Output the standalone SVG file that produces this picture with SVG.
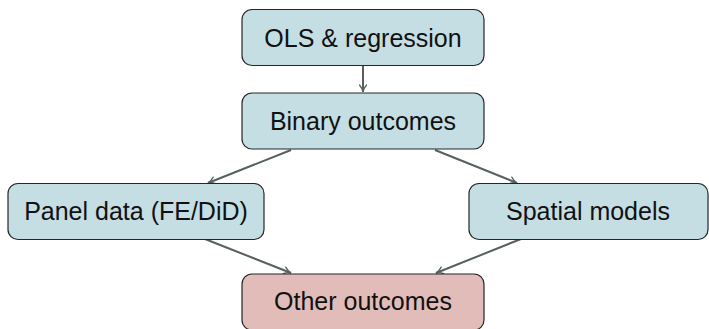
<svg xmlns="http://www.w3.org/2000/svg" width="709" height="329" viewBox="0 0 709 329">
  <style>
    .box { fill: #c5dee4; stroke: #262626; stroke-width: 1.2; }
    .box.alt { fill: #e2bcb9; }
    .label { font-family: "Liberation Sans", Arial, sans-serif; font-size: 25px; fill: #111; text-anchor: middle; dominant-baseline: central; }
    .edge { stroke: #56615f; stroke-width: 2; fill: none; marker-end: url(#arrow); }
  </style>
  <defs>
    <marker id="arrow" viewBox="0 0 10 10" refX="9" refY="5" markerWidth="10" markerHeight="10" orient="auto" markerUnits="userSpaceOnUse">
      <path d="M2,1.5 Q5.5,4.5 9,5 Q5.5,5.5 2,8.5" stroke="#56615f" stroke-width="1.3" fill="none" stroke-linecap="round"/>
    </marker>
  </defs>
  <rect width="709" height="329" fill="#ffffff"/>

  <g id="edges">
    <line class="edge" x1="363" y1="65" x2="363" y2="92"/>
    <line class="edge" x1="291" y1="150" x2="208" y2="183"/>
    <line class="edge" x1="435" y1="150" x2="517" y2="183"/>
    <line class="edge" x1="205" y1="239" x2="291" y2="273"/>
    <line class="edge" x1="521" y1="239" x2="436" y2="273"/>
  </g>

  <g id="ols">
    <rect class="box" x="242" y="9.5" width="242" height="56" rx="10"/>
    <text class="label" x="363" y="38">OLS &amp; regression</text>
  </g>
  <g id="binary">
    <rect class="box" x="242" y="93" width="242" height="56" rx="10"/>
    <text class="label" x="363" y="121">Binary outcomes</text>
  </g>
  <g id="panel">
    <rect class="box" x="8" y="183.5" width="256" height="56" rx="10"/>
    <text class="label" x="136" y="211">Panel data (FE/DiD)</text>
  </g>
  <g id="spatial">
    <rect class="box" x="469" y="183.5" width="239" height="56" rx="10"/>
    <text class="label" x="588" y="211">Spatial models</text>
  </g>
  <g id="other">
    <rect class="box alt" x="242" y="274" width="242" height="56" rx="10"/>
    <text class="label" x="363" y="301">Other outcomes</text>
  </g>
</svg>
